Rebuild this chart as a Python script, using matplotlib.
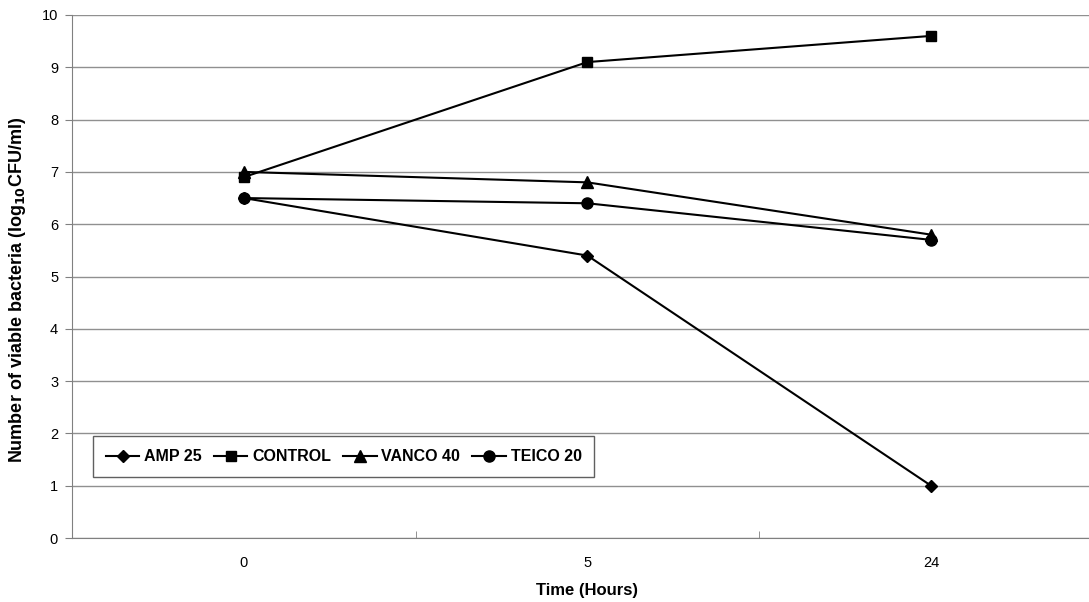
import numpy as np
import matplotlib.pyplot as plt
import matplotlib as mp
mp.rc('font', family=['Liberation Sans', 'DejaVu Sans'])

# time points are categories, equally spaced
times = ['0', '5', '24']
amp25 = [6.5, 5.4, 1.0]
control = [6.9, 9.1, 9.6]
vanco40 = [7.0, 6.8, 5.8]
teico20 = [6.5, 6.4, 5.7]

series = [('AMP 25', amp25, 'D', 6.5),
          ('CONTROL', control, 's', 7),
          ('VANCO 40', vanco40, '^', 8),
          ('TEICO 20', teico20, 'o', 8)]

fig = plt.figure(figsize=[10.89, 6.02], dpi=100)
ax = fig.add_axes([72/1089, 1-538/602, 1-72/1089, (538-15)/602])

xpos = np.arange(len(times))
for name, vals, mk, ms in series:
    ax.plot(xpos, vals, color='black', linewidth=1.5, marker=mk, markersize=ms,
            markerfacecolor='black', markeredgecolor='black', label=name)

ax.set_ylim(0, 10)
ax.set_yticks(range(0, 11))
ax.set_xlim(-0.5, (1089-245)/343 - 0.001)
ax.set_xticks(xpos)
ax.set_xticklabels(times)
ax.set_xticks([0.5, 1.5], minor=True)
ax.tick_params(axis='x', which='major', length=0, pad=13, labelsize=10.5)
ax.tick_params(axis='x', which='minor', length=5, color='#808080', direction='in')
ax.tick_params(axis='y', length=5, color='#808080', labelsize=10.5, pad=5)
ax.grid(axis='y', color='#909090', linewidth=1.0)
ax.set_axisbelow(True)
for s in ['top', 'right']:
    ax.spines[s].set_visible(False)
for s in ['left', 'bottom']:
    ax.spines[s].set_color('#808080')

fig.text(587/1089, 1-590/602, 'Time (Hours)', fontsize=12, fontweight='bold',
         ha='center', va='center')
fig.text(18/1089, 1-290/602, 'Number of viable bacteria (log$_{\\mathbf{10}}$CFU/ml)',
         fontsize=13, fontweight='bold', rotation=90, ha='center', va='center')

leg = ax.legend(loc='lower left', bbox_to_anchor=(21/1017, (538-477)/523), ncol=4,
                frameon=True, fancybox=False, edgecolor='#606060', framealpha=1,
                prop={'weight': 'bold', 'size': 11.5}, handlelength=2.1,
                columnspacing=0.75, handletextpad=0.3, borderpad=0.8,
                borderaxespad=0)
leg.get_frame().set_linewidth(1.0)

fig.savefig('out.png', dpi=100)
